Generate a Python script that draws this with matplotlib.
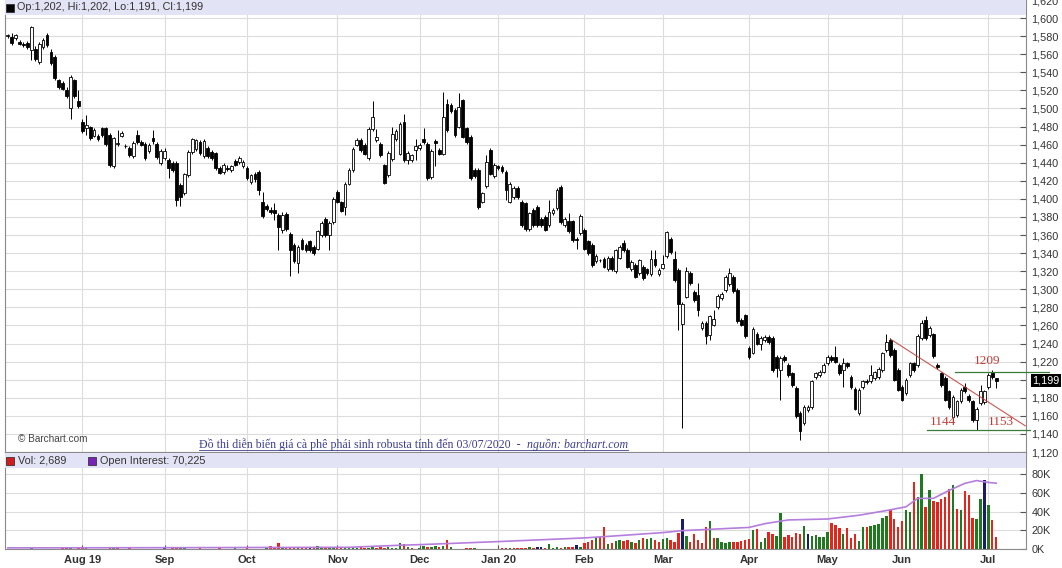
import numpy as np
import pandas as pd
import matplotlib
matplotlib.use("Agg")
import matplotlib.pyplot as plt
from matplotlib.patches import Rectangle
from matplotlib.lines import Line2D
import matplotlib.transforms as mtransforms

# ── Data (robusta coffee futures, daily, Jul 2019 - Jul 2020) ─────────
holidays = ["2019-08-26", "2019-12-25", "2019-12-26", "2020-01-01",
            "2020-04-10", "2020-04-13", "2020-05-08", "2020-05-25"]
dates = pd.bdate_range("2019-07-05", "2020-07-03", freq="C", holidays=holidays)

opens = [
    1580, 1579, 1578, 1574, 1571, 1572, 1565, 1566, 1551, 1568, 1581, 1563, 1557, 1531, 1528, 1520, 1501, 1531, 1508,
    1485, 1478, 1479, 1470, 1470, 1478, 1478, 1471, 1436, 1461, 1470, 1459, 1456, 1447, 1471, 1463, 1461, 1453, 1467, 1461, 1440,
    1445, 1443, 1440, 1440, 1415, 1406, 1426, 1452, 1455, 1463, 1447, 1456, 1452, 1451, 1434, 1430, 1434, 1432, 1442, 1441, 1436,
    1434, 1419, 1428, 1430, 1396, 1392, 1388, 1388, 1382, 1366, 1383, 1361, 1349, 1329, 1355, 1349, 1353, 1347, 1345, 1360, 1378, 1360, 1374,
    1408, 1396, 1391, 1417, 1432, 1460, 1465, 1460, 1445, 1477, 1465, 1461, 1437, 1426, 1444, 1466, 1450, 1485, 1443, 1443, 1454,
    1456, 1466, 1461, 1424, 1464, 1454, 1450, 1505, 1504, 1498, 1480, 1509, 1478, 1469, 1432, 1432, 1397, 1414, 1454, 1425,
    1436, 1435, 1430, 1397, 1402, 1412, 1397, 1395, 1367, 1388, 1391, 1378, 1380, 1371, 1384, 1390, 1413, 1371, 1375, 1375, 1356, 1362,
    1366, 1353, 1349, 1331, 1332, 1334, 1322, 1335, 1320, 1335, 1351, 1344, 1322, 1327, 1318, 1325, 1322, 1317, 1334, 1317,
    1324, 1337, 1356, 1333, 1321, 1262, 1292, 1318, 1297, 1294, 1257, 1263, 1249, 1261, 1280, 1290, 1299, 1306, 1314, 1299, 1266, 1271,
    1235, 1230, 1251, 1239, 1244, 1247, 1246, 1225, 1211, 1225, 1216, 1207, 1191, 1163, 1152, 1166, 1170, 1203, 1205, 1209,
    1218, 1225, 1225, 1216, 1211, 1218, 1203, 1190, 1163, 1192, 1199, 1198, 1202, 1203, 1211, 1233, 1244, 1233, 1211,
    1192, 1185, 1205, 1218, 1216, 1246, 1266, 1249, 1250, 1216, 1207, 1202, 1187, 1159, 1161, 1176, 1192, 1182, 1176, 1155, 1174, 1175,
    1192, 1208, 1202,
]
highs = [
    1582, 1583, 1582, 1576, 1573, 1575, 1591, 1569, 1573, 1578, 1584, 1566, 1559, 1533, 1530, 1524, 1537, 1533, 1520,
    1488, 1493, 1481, 1478, 1472, 1480, 1479, 1473, 1469, 1476, 1475, 1461, 1458, 1464, 1476, 1465, 1463, 1462, 1476, 1463, 1455,
    1456, 1445, 1442, 1442, 1418, 1429, 1454, 1467, 1466, 1465, 1466, 1458, 1454, 1452, 1436, 1440, 1437, 1438, 1444, 1447, 1443,
    1436, 1428, 1430, 1432, 1408, 1394, 1391, 1395, 1384, 1386, 1385, 1363, 1351, 1349, 1357, 1351, 1355, 1349, 1366, 1375, 1380, 1375, 1402,
    1410, 1398, 1419, 1434, 1457, 1467, 1467, 1462, 1479, 1508, 1477, 1463, 1439, 1453, 1480, 1477, 1485, 1494, 1453, 1450, 1466,
    1462, 1478, 1463, 1455, 1466, 1456, 1518, 1510, 1506, 1500, 1517, 1511, 1480, 1471, 1434, 1434, 1408, 1448, 1456, 1440,
    1438, 1437, 1432, 1419, 1414, 1414, 1399, 1397, 1386, 1390, 1393, 1380, 1382, 1399, 1390, 1412, 1415, 1380, 1384, 1377, 1358, 1383,
    1368, 1355, 1351, 1339, 1334, 1336, 1337, 1337, 1345, 1349, 1355, 1346, 1332, 1329, 1334, 1327, 1324, 1343, 1344, 1323,
    1338, 1365, 1358, 1342, 1323, 1286, 1325, 1320, 1299, 1307, 1265, 1265, 1272, 1277, 1295, 1297, 1316, 1323, 1316, 1301, 1268, 1273,
    1237, 1258, 1253, 1248, 1249, 1249, 1248, 1227, 1226, 1227, 1218, 1209, 1193, 1165, 1172, 1172, 1200, 1209, 1211, 1218,
    1227, 1227, 1237, 1218, 1224, 1220, 1205, 1192, 1191, 1200, 1201, 1216, 1210, 1214, 1231, 1251, 1246, 1235, 1213,
    1194, 1202, 1220, 1220, 1250, 1266, 1270, 1259, 1252, 1218, 1209, 1204, 1189, 1183, 1178, 1191, 1196, 1184, 1178, 1170, 1194, 1189,
    1207, 1211, 1202,
]
lows = [
    1578, 1570, 1576, 1570, 1568, 1566, 1554, 1552, 1549, 1566, 1568, 1548, 1532, 1522, 1520, 1512, 1488, 1512, 1501,
    1473, 1471, 1465, 1468, 1464, 1469, 1459, 1435, 1434, 1458, 1468, 1456, 1446, 1445, 1461, 1458, 1443, 1451, 1461, 1444, 1438,
    1443, 1423, 1430, 1392, 1392, 1404, 1424, 1450, 1453, 1449, 1445, 1445, 1443, 1432, 1427, 1428, 1431, 1430, 1436, 1439, 1434,
    1421, 1416, 1419, 1404, 1379, 1387, 1383, 1377, 1343, 1362, 1365, 1315, 1329, 1318, 1343, 1341, 1341, 1338, 1343, 1358, 1358, 1343, 1372,
    1395, 1385, 1382, 1415, 1430, 1458, 1452, 1448, 1443, 1475, 1463, 1446, 1416, 1424, 1442, 1464, 1448, 1441, 1439, 1441, 1443,
    1454, 1461, 1421, 1422, 1436, 1448, 1448, 1474, 1495, 1469, 1478, 1467, 1461, 1421, 1423, 1389, 1395, 1412, 1426, 1423,
    1432, 1429, 1399, 1395, 1400, 1400, 1369, 1365, 1365, 1369, 1369, 1369, 1364, 1369, 1382, 1388, 1372, 1369, 1362, 1352, 1345, 1360,
    1343, 1338, 1325, 1329, 1330, 1323, 1320, 1320, 1318, 1333, 1341, 1323, 1320, 1312, 1316, 1310, 1316, 1315, 1325, 1315,
    1322, 1335, 1339, 1308, 1255, 1146, 1290, 1305, 1286, 1270, 1255, 1240, 1244, 1259, 1278, 1288, 1297, 1304, 1296, 1263, 1259, 1246,
    1223, 1228, 1238, 1233, 1242, 1240, 1209, 1203, 1178, 1220, 1203, 1192, 1158, 1133, 1150, 1164, 1168, 1201, 1203, 1207,
    1216, 1220, 1218, 1205, 1192, 1213, 1190, 1166, 1161, 1190, 1195, 1196, 1200, 1201, 1209, 1231, 1225, 1198, 1187,
    1176, 1183, 1203, 1209, 1214, 1244, 1244, 1247, 1224, 1212, 1192, 1176, 1168, 1153, 1159, 1174, 1185, 1175, 1153, 1144, 1172, 1173,
    1190, 1201, 1191,
]
closes = [
    1580, 1572, 1581, 1571, 1570, 1568, 1590, 1555, 1571, 1576, 1570, 1550, 1534, 1524, 1522, 1514, 1535, 1514, 1503,
    1475, 1482, 1467, 1476, 1466, 1471, 1461, 1437, 1467, 1462, 1473, 1458, 1449, 1462, 1463, 1460, 1445, 1460, 1464, 1446, 1453,
    1453, 1434, 1432, 1399, 1402, 1427, 1452, 1466, 1465, 1451, 1464, 1447, 1445, 1434, 1429, 1438, 1433, 1436, 1438, 1445, 1441,
    1423, 1426, 1422, 1410, 1381, 1389, 1385, 1384, 1369, 1382, 1367, 1343, 1331, 1347, 1345, 1343, 1343, 1340, 1364, 1373, 1360, 1373, 1400,
    1397, 1387, 1417, 1432, 1455, 1465, 1454, 1450, 1477, 1491, 1469, 1448, 1418, 1451, 1472, 1475, 1483, 1443, 1451, 1448, 1459,
    1460, 1463, 1423, 1453, 1462, 1450, 1491, 1476, 1497, 1471, 1502, 1469, 1463, 1423, 1425, 1391, 1406, 1441, 1428, 1438,
    1434, 1431, 1410, 1417, 1412, 1402, 1371, 1367, 1384, 1371, 1371, 1371, 1366, 1386, 1388, 1410, 1374, 1378, 1364, 1354, 1354, 1381,
    1345, 1340, 1327, 1337, 1332, 1325, 1335, 1322, 1343, 1347, 1343, 1325, 1330, 1314, 1332, 1312, 1318, 1334, 1327, 1321,
    1328, 1363, 1341, 1310, 1284, 1284, 1320, 1307, 1288, 1277, 1263, 1248, 1270, 1267, 1293, 1295, 1314, 1318, 1298, 1265, 1261, 1248,
    1225, 1256, 1240, 1246, 1247, 1242, 1211, 1213, 1224, 1222, 1205, 1194, 1160, 1143, 1170, 1170, 1198, 1207, 1209, 1216,
    1225, 1222, 1220, 1207, 1218, 1215, 1192, 1168, 1189, 1198, 1197, 1205, 1208, 1212, 1229, 1242, 1227, 1200, 1189,
    1178, 1200, 1218, 1211, 1248, 1263, 1246, 1257, 1226, 1214, 1194, 1178, 1170, 1181, 1176, 1189, 1187, 1177, 1155, 1168, 1187, 1187,
    1205, 1203, 1199,
]

# volume in thousands of lots
volume_k = [
    0.3, 0.2, 0.3, 0.2, 0.3, 0.2, 1.0, 0.3, 0.2, 0.3, 0.2, 0.2, 0.3, 0.2, 0.8, 0.6, 0.9, 0.3, 0.7,
    1.5, 0.8, 0.3, 0.2, 0.3, 0.2, 0.3, 1.0, 1.0, 1.0, 0.2, 0.3, 0.8, 0.2, 0.3, 0.2, 0.2, 0.3, 0.3, 0.2, 0.5,
    1.0, 0.5, 2.0, 1.5, 1.0, 1.8, 0.5, 0.3, 0.2, 1.0, 0.3, 0.2, 0.3, 0.2, 1.0, 0.3, 0.2, 0.5, 1.0, 0.3, 0.2,
    1.0, 0.3, 0.5, 0.3, 0.5, 2.5, 3.0, 2.0, 6.0, 2.0, 1.0, 2.5, 1.0, 1.5, 1.0, 1.5, 1.0, 2.0, 3.0, 2.0, 1.0, 1.5, 1.0,
    1.5, 1.0, 2.0, 1.0, 1.5, 0.8, 2.0, 1.5, 1.0, 2.0, 1.5, 2.0, 1.5, 1.8, 1.0, 1.5, 6.5, 5.0, 2.5, 1.0, 0.3,
    1.0, 3.0, 2.0, 2.0, 3.0, 2.0, 3.0, 10.0, 2.0, 0.5, 0.3, 0.2, 1.0, 1.0, 1.0, 0.3, 0.3, 0.2, 0.3, 0.2,
    0.3, 1.0, 1.0, 1.0, 1.5, 1.0, 1.5, 1.5, 2.0, 1.5, 2.0, 2.5, 1.5, 5.0, 1.5, 2.0, 1.5, 2.5, 2.0, 2.0, 4.0, 2.5,
    6, 8, 10, 12, 13, 23, 5, 6, 9, 10, 9, 10, 8, 6, 10, 12, 11, 12, 10, 7,
    11, 12, 10, 7, 17, 32, 14, 7, 16, 10, 6, 24, 30, 12, 12, 8, 6, 7, 8, 8, 9, 10,
    11, 20, 21, 8, 12, 18, 16, 14, 38, 13, 15, 13, 17, 16, 25, 16, 14, 15, 13, 13,
    18, 28, 26, 22, 16, 22, 12, 16, 9, 24, 23, 25, 26, 27, 33, 35, 42, 32, 23,
    30, 42, 39, 72, 56, 80, 45, 63, 51, 50, 53, 56, 64, 68, 43, 42, 62, 58, 33, 32, 53, 74,
    47, 31, 13,
]

# open interest (thousands), read at a few points along the line
oi_day = [0, 40, 87, 100, 106, 125, 147, 155, 167, 172, 176, 189, 193, 199, 209, 217, 224, 229, 232, 236, 240, 244, 247, 250, 252]
oi_k = [1.2, 1.4, 1.8, 4.0, 4.8, 7.9, 11.8, 14.0, 17.5, 19.6, 20.4, 23.0, 27.0, 31.0, 32.0, 36.0, 41.0, 45.0, 54.0, 54.0, 62.5, 70.0, 73.0, 71.0, 70.2]

# hand-drawn annotations (price levels)
level_hi = 1209
level_lo = 1144
trend_start = (225, 1245)
trend_end = (259.4, 1149)

n = min(len(dates), len(closes))
dates = dates[:n]
x = np.arange(n)
o = np.array(opens[:n]); h = np.array(highs[:n]); l = np.array(lows[:n]); c = np.array(closes[:n])
vol = np.array(volume_k[:n])

# ── Style ──────────────────────────────────────────────────────────────
W, H = 1062, 568
BAND = "#e3e3f6"
GRID = "#dcdcdc"
SPINE = "#8a8a8a"
TXT = "#333333"
UP_VOL = "#1f7a1f"
DN_VOL = "#e8231a"
FLAT_VOL = "#1b1b66"
OI_COL = "#b57ddc"
ANNOT = "#c23b35"
LEVEL = "#3a7d3a"
CAPTION = "#3d3f8e"
FONT = "Liberation Sans"
SERIF = "Liberation Serif"

plt.rcParams["font.family"] = [FONT, "DejaVu Sans"]

fig = plt.figure(figsize=(W / 100, H / 100), dpi=100)
fig.patch.set_facecolor("white")


def px_axes(left, top, right, bottom):
    return fig.add_axes([left / W, 1 - bottom / H, (right - left) / W, (bottom - top) / H])


def px_square(left, top, size, color):
    # small legend swatch placed in figure pixels
    fig.add_artist(Rectangle((left / W, 1 - (top + size) / H), size / W, size / H,
                             transform=fig.transFigure, facecolor=color,
                             edgecolor="#222222", linewidth=0.5, zorder=10))


XMIN, XMAX = -0.71, 259.6
ax = px_axes(5, 0, 1026, 452)
axv = px_axes(5, 453, 1026, 549)

month_idx = [i for i in range(1, n) if dates[i].month != dates[i - 1].month]
month_lbl = []
for i in month_idx:
    d = dates[i]
    if d.month == 1 or (d.month == 8 and d.year == 2019):
        month_lbl.append(d.strftime("%b ") + d.strftime("%y"))
    else:
        month_lbl.append(d.strftime("%b"))

for a in (ax, axv):
    a.set_xlim(XMIN, XMAX)
    a.set_facecolor("white")
    for s in a.spines.values():
        s.set_color(SPINE)
        s.set_linewidth(0.8)
    a.set_xticks(month_idx)
    a.grid(True, color=GRID, linewidth=0.8)
    a.set_axisbelow(True)
    a.yaxis.tick_right()
    a.tick_params(axis="y", direction="in", length=4, color="#555555", labelsize=7.8,
                  labelcolor=TXT, pad=4)

# ── Price panel ───────────────────────────────────────────────────────
ax.set_ylim(1120, 1620)
ax.set_yticks(np.arange(1120, 1621, 20))
ax.set_yticklabels([f"{v:,}" for v in range(1120, 1621, 20)])
ax.tick_params(axis="x", length=0, labelbottom=False)

up = c >= o
ax.vlines(x, l, h, color="black", linewidth=0.7, zorder=2)
body_lo = np.minimum(o, c)
body_h = np.maximum(np.abs(c - o), 0.8)
ax.bar(x[up], body_h[up], bottom=body_lo[up], width=0.7, color="white",
       edgecolor="black", linewidth=0.6, zorder=3)
ax.bar(x[~up], body_h[~up], bottom=body_lo[~up], width=0.7, color="black",
       edgecolor="black", linewidth=0.6, zorder=3)

# legend band on top
band_h = 15 / 452
ax.add_patch(Rectangle((0, 1 - band_h), 1, band_h, transform=ax.transAxes,
                       facecolor=BAND, edgecolor="none", zorder=5))
px_square(6, 4, 8, "black")
ax.text(12 / 1021, 1 - band_h / 2,
        f"Op:{o[-1]:,}, Hi:{h[-1]:,}, Lo:{l[-1]:,}, Cl:{c[-1]:,}",
        transform=ax.transAxes, va="center", ha="left", fontsize=7.8, color=TXT, zorder=6)

# annotation lines
x_px = lambda px: XMIN + (px - 5) / (1026 - 5) * (XMAX - XMIN)
clip_off = dict(clip_on=False, zorder=4)
ax.plot([x_px(955), x_px(1049)], [level_hi, level_hi], color=LEVEL, linewidth=0.9, **clip_off)
ax.plot([x_px(927), x_px(1030)], [level_lo, level_lo], color=LEVEL, linewidth=0.9, **clip_off)
ax.plot([trend_start[0], trend_end[0]], [trend_start[1], trend_end[1]], color=ANNOT,
        linewidth=0.8, alpha=0.85, zorder=4)
ax.text(x_px(987), level_hi + 5, str(level_hi), color=ANNOT, fontsize=9.5, family=SERIF,
        ha="center", va="bottom", zorder=6)
ax.text(x_px(943), level_lo + 2, str(level_lo), color=ANNOT, fontsize=9.5, family=SERIF,
        ha="center", va="bottom", zorder=6)
ax.text(x_px(1001), 1153, "1153", color=ANNOT, fontsize=9.5, family=SERIF,
        ha="center", va="center", zorder=6)

# last price badge
tr = mtransforms.blended_transform_factory(ax.transAxes, ax.transData)
ax.text(1.006, c[-1], f"{c[-1]:,}", transform=tr, ha="left", va="center", fontsize=7.8,
        color="white", zorder=7, clip_on=False,
        bbox=dict(boxstyle="square,pad=0.15", facecolor="black", edgecolor="none"))

# watermark + caption
ax.text(13 / 1021, 1 - 439 / 452, "\u00a9 Barchart.com", transform=ax.transAxes,
        fontsize=7.2, color="#444444", va="center", ha="left", zorder=6)

fig.canvas.draw()
cap_y = 1 - 448 / H
t1 = fig.text(199 / W, cap_y, "Đồ thi diễn biến giá cà phê phái sinh robusta tính đến 03/07/2020  -  ",
              fontsize=8.6, family=SERIF, color=CAPTION, va="baseline", ha="left")
fig.canvas.draw()
r = fig.canvas.get_renderer()
bb1 = t1.get_window_extent(r)
t2 = fig.text(bb1.x1 / W, cap_y, "nguồn: barchart.com", fontsize=8.6, family=SERIF,
              style="italic", color=CAPTION, va="baseline", ha="left")
fig.canvas.draw()
bb2 = t2.get_window_extent(r)
ul_y = cap_y - 2.2 / H
fig.add_artist(Line2D([bb1.x0 / W, bb2.x1 / W], [ul_y, ul_y], color=CAPTION, linewidth=0.6))

# ── Volume panel ──────────────────────────────────────────────────────
vmax = (549 - 453) / 18.75 * 20
axv.set_ylim(0, vmax)
axv.set_yticks([0, 20, 40, 60, 80])
axv.set_yticklabels(["0K", "20K", "40K", "60K", "80K"])

prev = np.concatenate([[c[0]], c[:-1]])
vcol = np.where(c > prev, UP_VOL, np.where(c < prev, DN_VOL, FLAT_VOL))
axv.bar(x, vol, width=0.62, color=vcol, edgecolor="none", zorder=3)
axv.plot(oi_day, oi_k, color=OI_COL, linewidth=1.2, zorder=4)

axv.set_xticklabels(month_lbl)
axv.tick_params(axis="x", direction="in", length=3, color="#555555", labelsize=8,
                labelcolor=TXT, pad=4)
for t in axv.get_xticklabels():
    t.set_fontweight("bold")

vband = 15 / 96
axv.add_patch(Rectangle((0, 1 - vband), 1, vband, transform=axv.transAxes,
                        facecolor=BAND, edgecolor="none", zorder=5))
px_square(6, 457, 8, "#d01c1c")
axv.text(13 / 1021, 1 - vband / 2, "Vol: 2,689", transform=axv.transAxes, va="center",
         ha="left", fontsize=7.8, color=TXT, zorder=6)
px_square(88, 457, 8, "#7a22b5")
axv.text(95 / 1021, 1 - vband / 2, "Open Interest: 70,225", transform=axv.transAxes,
         va="center", ha="left", fontsize=7.8, color=TXT, zorder=6)

fig.savefig("out.png", dpi=100, facecolor="white")
